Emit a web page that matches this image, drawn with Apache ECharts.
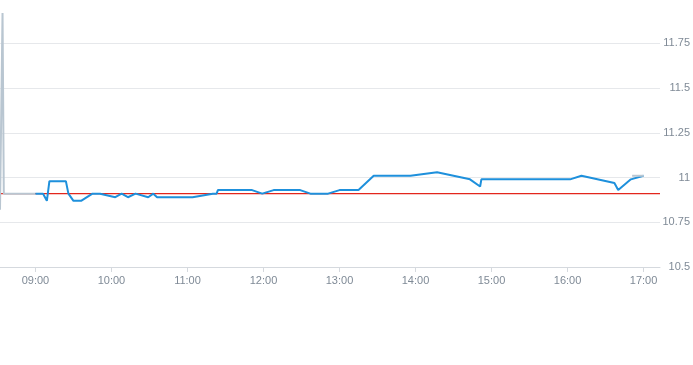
<!DOCTYPE html>
<html>
<head>
<meta charset="utf-8">
<script src="https://cdn.jsdelivr.net/npm/echarts@6/dist/echarts.min.js"></script>
<style>html,body{margin:0;padding:0;background:#fff}#c{width:693px;height:365px}</style>
</head>
<body>
<div id="c"></div>
<script>
var priceTimes = ['09:00','09:06','09:09','09:11','09:24','09:26','09:30','09:36','09:45','09:51','10:03','10:08','10:13','10:19','10:29','10:33','10:36','11:04','11:20','11:23','11:24','11:51','11:59','12:08','12:29','12:37','12:51','13:00','13:15','13:27','13:56','14:17','14:43','14:51','14:52','16:02','16:11','16:37','16:40','16:50','17:00'];
var priceValues = [10.91,10.91,10.87,10.98,10.98,10.91,10.87,10.87,10.91,10.91,10.89,10.91,10.89,10.91,10.89,10.91,10.89,10.89,10.91,10.91,10.93,10.93,10.91,10.93,10.93,10.91,10.91,10.93,10.93,11.01,11.01,11.03,10.99,10.95,10.99,10.99,11.01,10.97,10.93,10.99,11.01];
var preTimes = ['08:32','08:34','08:35','09:00'];
var preValues = [10.82,11.92,10.91,10.91];
var postTimes = ['16:51','17:00'];
var postValues = [11.01,11.01];
var prevClose = 10.91;
var axisStart = '08:32', axisEnd = '17:13';
var yTicks = [10.5, 10.75, 11, 11.25, 11.5, 11.75];

function toDate(s){var p=s.split(':');return new Date(2024,0,2,+p[0],+p[1]).getTime();}
function pairs(t,v){return t.map(function(s,i){return [toDate(s),v[i]];});}

var chart = echarts.init(document.getElementById('c'));
chart.setOption({
  animation:false,
  grid:{left:0,right:30,top:13,bottom:98},
  xAxis:{
    type:'time',
    min:toDate(axisStart), max:toDate(axisEnd),
    minInterval:3600000, maxInterval:3600000,
    axisLine:{lineStyle:{color:'#d5d9de'}},
    axisTick:{show:true,length:5,lineStyle:{color:'#d5d9de'}},
    axisLabel:{color:'#7f8a96',fontSize:11,fontFamily:'Liberation Sans, Arial, sans-serif',formatter:'{HH}:{mm}',margin:8},
    splitLine:{show:false}
  },
  yAxis:{
    type:'value', position:'right',
    min:10.5, max:11.92, interval:0.25,
    axisLine:{show:false}, axisTick:{show:false},
    axisLabel:{color:'#7f8a96',fontSize:11,fontFamily:'Liberation Sans, Arial, sans-serif',align:'right',margin:30,showMaxLabel:false,
      formatter:function(v){var r=Math.round(v*100)/100;return yTicks.indexOf(r)>=0?String(r):'';}},
    splitLine:{show:true,showMaxLine:false,lineStyle:{color:'#e6e8eb',width:1}}
  },
  series:[
    {type:'line',data:[[toDate(axisStart),prevClose],[toDate(axisEnd),prevClose]],symbol:'none',silent:true,
      lineStyle:{color:'#e3261c',width:1.4},z:2},
    {type:'line',data:pairs(preTimes,preValues),symbol:'none',lineStyle:{color:'#b9c6d1',width:2},z:3},
    {type:'line',data:pairs(priceTimes,priceValues),symbol:'none',lineStyle:{color:'#1e90dc',width:2},z:4},
    {type:'line',data:pairs(postTimes,postValues),symbol:'none',lineStyle:{color:'#b9c6d1',width:2},z:5}
  ]
});
</script>
</body>
</html>
